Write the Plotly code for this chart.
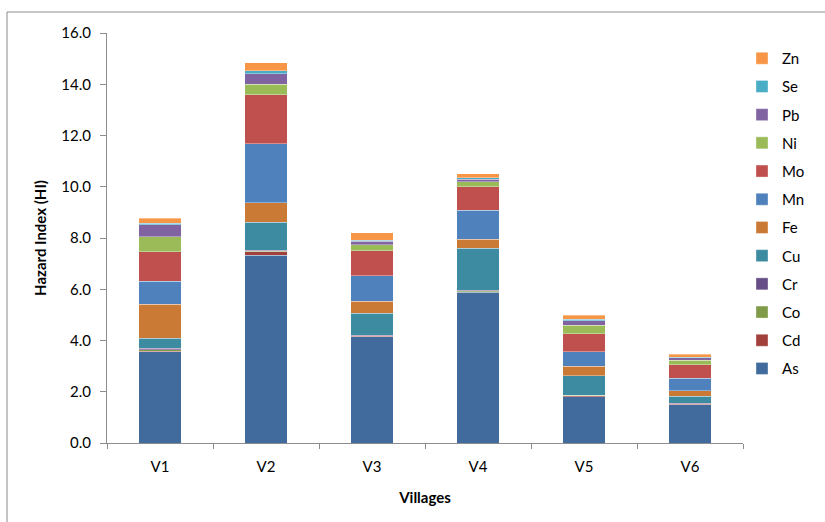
import plotly.graph_objects as go

# Hazard index contribution of each element, per village
villages = ["V1", "V2", "V3", "V4", "V5", "V6"]

As = [3.56, 7.32, 4.15, 5.88, 1.80, 1.50]
Cd = [0.03, 0.14, 0.02, 0.03, 0.05, 0.02]
Co = [0.05, 0.03, 0.02, 0.03, 0.01, 0.02]
Cr = [0.06, 0.04, 0.02, 0.03, 0.01, 0.02]
Cu = [0.38, 1.08, 0.85, 1.63, 0.76, 0.27]
Fe = [1.33, 0.77, 0.47, 0.35, 0.36, 0.20]
Mn = [0.90, 2.29, 0.99, 1.13, 0.57, 0.49]
Mo = [1.16, 1.92, 0.99, 0.92, 0.71, 0.54]
Ni = [0.58, 0.41, 0.22, 0.20, 0.32, 0.17]
Pb = [0.46, 0.41, 0.14, 0.10, 0.18, 0.09]
Se = [0.06, 0.11, 0.04, 0.05, 0.06, 0.02]
Zn = [0.21, 0.32, 0.29, 0.16, 0.16, 0.13]

elements = ["As", "Cd", "Co", "Cr", "Cu", "Fe", "Mn", "Mo", "Ni", "Pb", "Se", "Zn"]
values = [As, Cd, Co, Cr, Cu, Fe, Mn, Mo, Ni, Pb, Se, Zn]
colors = ["#416B9C", "#A2403C", "#7F9A48", "#674E86", "#3C8BA1", "#CB7A36",
          "#4F81BD", "#C0504D", "#9BBB59", "#8064A2", "#4BACC6", "#F79646"]

FONT = "Lato"
AXIS_GRAY = "#8C8C8C"

fig = go.Figure()
n = len(elements)
for i, (name, vals, col) in enumerate(zip(elements, values, colors)):
    fig.add_trace(go.Bar(
        x=villages, y=vals, name=name, legendgroup=name,
        legendrank=n - i,  # top of the stack listed first
        marker=dict(color=col, line=dict(color="rgba(255,255,255,0.35)", width=1)),
    ))

# plot area in pixels
L, R, T, B = 107, 82, 33, 79
W, H = 825, 522
pw, ph = W - L - R, H - T - B

fig.update_layout(
    width=W, height=H,
    margin=dict(l=L, r=R, t=T, b=B),
    barmode="stack", bargap=0.595,
    paper_bgcolor="white", plot_bgcolor="white",
    font=dict(family=FONT, size=15, color="black"),
    showlegend=True,
    legend=dict(
        traceorder="grouped", tracegroupgap=5.7,
        x=(742 - L) / pw, xanchor="left",
        y=1 + (T - 42) / ph, yanchor="top",
        font=dict(family=FONT, size=15),
        bgcolor="rgba(0,0,0,0)",
    ),
    xaxis=dict(
        showline=True, linecolor=AXIS_GRAY, linewidth=1,
        ticks="outside", tickson="boundaries", ticklen=5, tickcolor=AXIS_GRAY,
        ticklabelstandoff=10,
        showgrid=False,
        title=dict(text="<b>Villages</b>", standoff=18, font=dict(size=15)),
    ),
    yaxis=dict(
        range=[0, 16], dtick=2, tickformat=".1f",
        showline=True, linecolor=AXIS_GRAY, linewidth=1,
        ticks="outside", ticklen=6, tickcolor=AXIS_GRAY,
        ticklabelstandoff=6,
        showgrid=False, zeroline=False,
        title=dict(text="<b>Hazard Index (HI)</b>", standoff=11, font=dict(size=15)),
    ),
)

# outer chart frame
fig.add_shape(
    type="rect", xref="paper", yref="paper",
    x0=(7 - L) / pw, x1=(W + 10 - L) / pw,
    y0=-(H + 10 - (T + ph)) / ph, y1=1 + (T - 12) / ph,
    line=dict(color=AXIS_GRAY, width=1), fillcolor="rgba(0,0,0,0)", layer="below",
)

fig.write_html("out.html")
